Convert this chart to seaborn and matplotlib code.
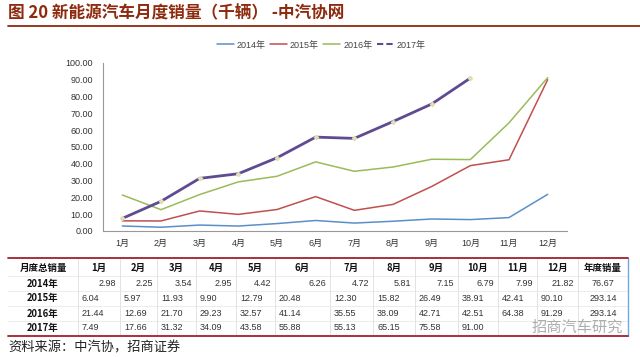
import matplotlib
matplotlib.use("Agg")
import matplotlib.pyplot as plt
import seaborn as sns
import pandas as pd
from matplotlib.lines import Line2D

meses = ["1月", "2月", "3月", "4月", "5月", "6月", "7月", "8月", "9月", "10月", "11月", "12月"]
anios = ["2014年", "2015年", "2016年", "2017年"]
v2014 = [2.98, 2.25, 3.54, 2.95, 4.42, 6.26, 4.72, 5.81, 7.15, 6.79, 7.99, 21.82]
v2015 = [6.04, 5.97, 11.93, 9.90, 12.79, 20.48, 12.30, 15.82, 26.49, 38.91, 42.41, 90.10]
v2016 = [21.44, 12.69, 21.70, 29.23, 32.57, 41.14, 35.55, 38.09, 42.71, 42.51, 64.38, 91.29]
v2017 = [7.49, 17.66, 31.32, 34.09, 43.58, 55.88, 55.13, 65.15, 75.58, 91.00]
anual = ["76.67", "293.14", "293.14", ""]
series = [v2014, v2015, v2016, v2017]
colores = ["#5B8FC9", "#C0504D", "#9BBB59", "#5E4B91"]

sns.set_style("white")
plt.rcParams["font.family"] = ["Liberation Sans", "Noto Sans CJK SC", "DejaVu Sans"]

filas = []
for anio, vals in zip(anios, series):
    for i, v in enumerate(vals):
        filas.append({"mes": i, "anio": anio, "valor": v})
df = pd.DataFrame(filas)

fig = plt.figure(figsize=(6.4, 3.57), dpi=100)
ax = fig.add_axes([103 / 640, 1 - 231 / 357, 464 / 640, 168 / 357])

for anio, color in zip(anios, colores):
    sub = df[df["anio"] == anio]
    if anio == "2017年":
        sns.lineplot(data=sub, x="mes", y="valor", ax=ax, color=color, linewidth=2.0,
                     marker="D", markersize=2.3, markerfacecolor="#E2DDB4",
                     markeredgecolor="#E2DDB4", zorder=4)
    else:
        sns.lineplot(data=sub, x="mes", y="valor", ax=ax, color=color, linewidth=1.1)

ax.set_xlim(-0.5, 11.5)
ax.set_ylim(0, 100)
ax.set_yticks(range(0, 101, 10))
ax.set_yticklabels([f"{t:.2f}" for t in range(0, 101, 10)], fontsize=6.5, color="#333333")
ax.set_xticks([i - 0.5 for i in range(13)])
ax.set_xticklabels([])
ax.set_xticks(range(12), minor=True)
ax.set_xticklabels(meses, minor=True, fontsize=6.5, color="#333333")
ax.tick_params(axis="x", which="minor", length=0, pad=6)
ax.tick_params(axis="x", which="major", direction="in", length=3, color="#999999")
ax.tick_params(axis="y", direction="out", length=3, color="#999999", pad=4)
ax.set_xlabel("")
ax.set_ylabel("")
for lado in ["top", "right"]:
    ax.spines[lado].set_visible(False)
for lado in ["left", "bottom"]:
    ax.spines[lado].set_color("#999999")
    ax.spines[lado].set_linewidth(0.8)

manijas = []
for anio, color in zip(anios, colores):
    if anio == "2017年":
        manijas.append(Line2D([], [], color=color, linewidth=1.5, linestyle=(0, (3, 1.5)), label=anio))
    else:
        manijas.append(Line2D([], [], color=color, linewidth=1.1, label=anio))
ax.legend(handles=manijas, loc="center", bbox_to_anchor=(0.47, 1.107), ncol=4, frameon=False,
          fontsize=6.5, labelcolor="#444444", handlelength=1.9, columnspacing=0.5, handletextpad=0.3)

# capa superior en pixeles para titulo y tabla
capa = fig.add_axes([0, 0, 1, 1])
capa.set_xlim(0, 640)
capa.set_ylim(357, 0)
capa.set_axis_off()

capa.text(8, 13, "图 20 新能源汽车月度销量（千辆） -中汽协网", fontsize=12, fontweight="bold",
          color="#8E2A0E", va="center", ha="left",
          family=["Noto Sans CJK SC", "DejaVu Sans"])
capa.plot([8, 640], [26, 26], color="#8E2A0E", linewidth=1.3)

# tabla
bordes = [8, 78, 120, 157, 196, 236, 275, 330, 373, 415, 458, 498, 537, 578, 628]
filas_y = [268, 283.5, 298.5, 313.5, 328]
encabezado = ["月度总销量"] + meses + ["年度销量"]
for j, txt in enumerate(encabezado):
    cx = (bordes[j] + bordes[j + 1]) / 2
    capa.text(cx, filas_y[0], txt, fontsize=6.8, fontweight="bold", ha="center", va="center",
              color="#111111", family=["Noto Sans CJK SC", "DejaVu Sans"])

for r, (anio, vals) in enumerate(zip(anios, series)):
    y = filas_y[r + 1]
    capa.text((bordes[0] + bordes[1]) / 2, y, anio, fontsize=6.8, fontweight="bold", ha="center",
              va="center", color="#111111", family=["Noto Sans CJK SC", "DejaVu Sans"])
    celdas = [f"{v:.2f}" for v in vals] + [""] * (12 - len(vals)) + [anual[r]]
    for j, txt in enumerate(celdas):
        x0, x1 = bordes[j + 1], bordes[j + 2]
        if r == 0 and j < 12:
            capa.text(x1 - 4, y, txt, fontsize=6.5, ha="right", va="center", color="#333333")
        elif j == 12:
            capa.text((x0 + x1) / 2, y, txt, fontsize=6.5, ha="center", va="center", color="#333333")
        else:
            capa.text(x0 + 4, y, txt, fontsize=6.5, ha="left", va="center", color="#333333")

for x in bordes[1:-1]:
    capa.plot([x, x], [259, 335], color="#D8D8D8", linewidth=0.5)
for y in [276, 291, 306, 321]:
    capa.plot([8, 628], [y, y], color="#E4E4E4", linewidth=0.5)
capa.plot([628, 628], [258, 336], color="#6FA8DC", linewidth=1.0)
capa.plot([8, 628], [258, 258], color="#A0202A", linewidth=1.3)
capa.plot([8, 628], [336, 336], color="#A0202A", linewidth=1.3)

capa.text(577, 327, "招商汽车研究", fontsize=11, ha="center", va="center", color="#9A9A9A",
          alpha=0.8, family=["Noto Sans CJK SC", "DejaVu Sans"])

capa.text(8, 348, "资料来源：中汽协，招商证券", fontsize=9.5, ha="left", va="center", color="#222222",
          family=["Noto Sans CJK SC", "DejaVu Sans"])

fig.savefig("out.png", dpi=100)
